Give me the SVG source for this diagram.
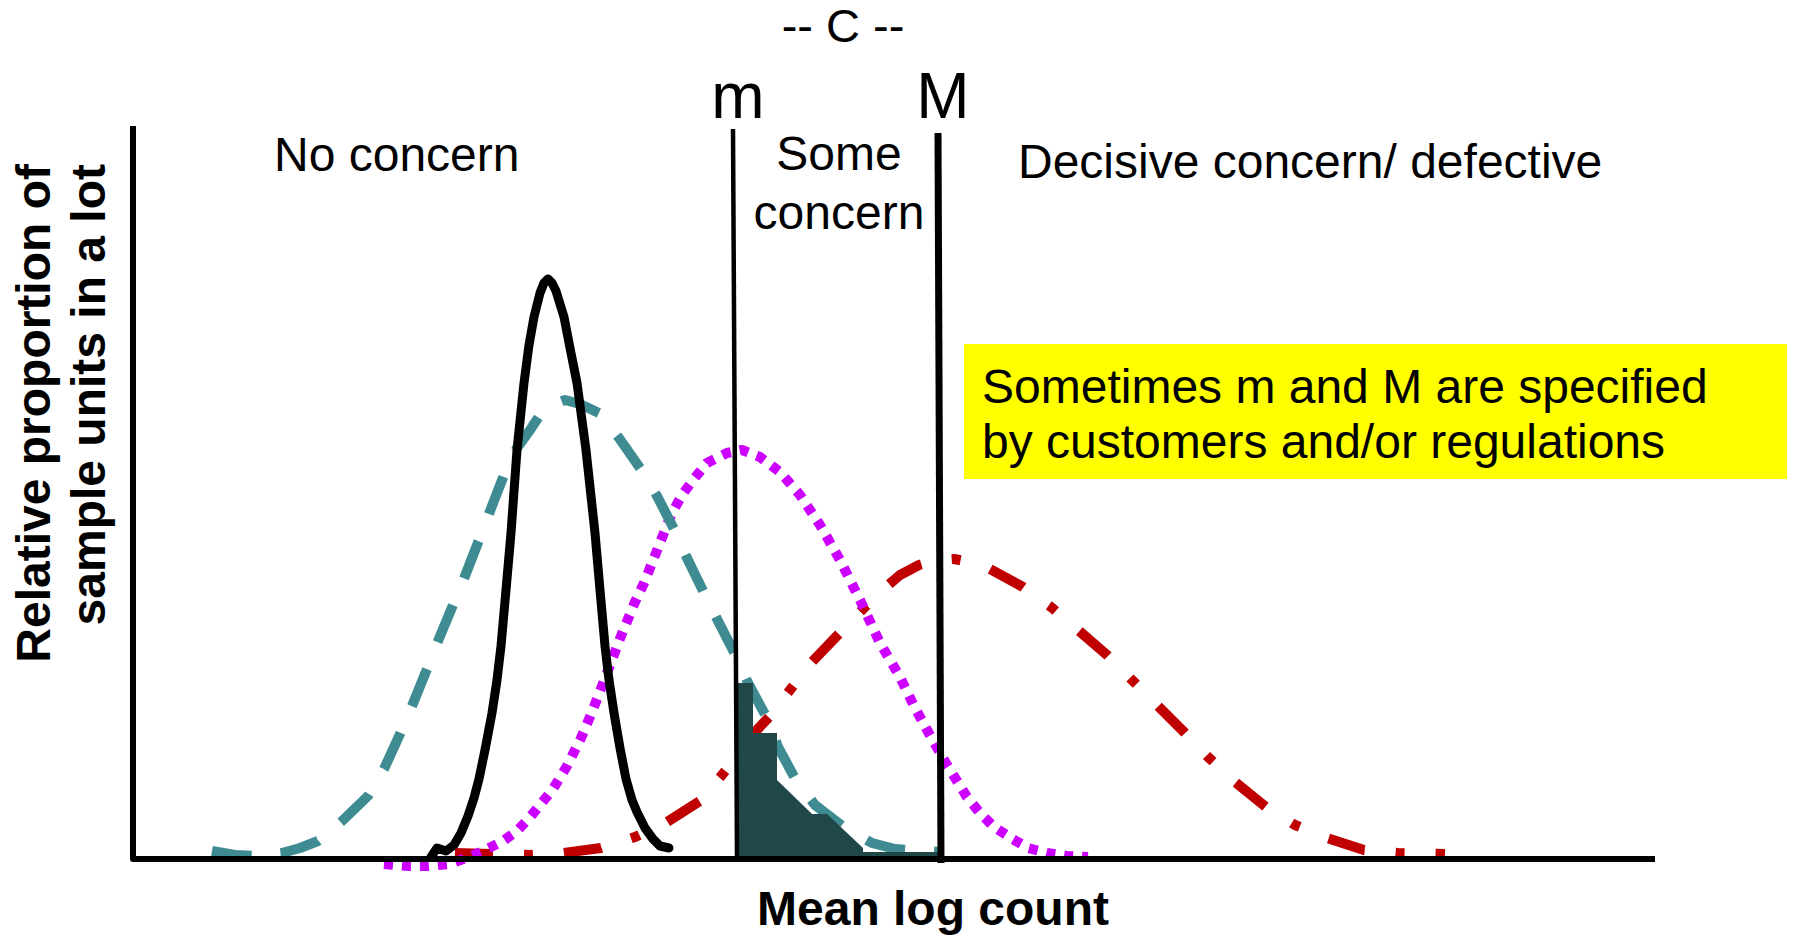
<svg xmlns="http://www.w3.org/2000/svg" width="1796" height="936" viewBox="0 0 1796 936">
<style>
.t{font-family:"Liberation Sans",Arial,sans-serif;fill:#000}
.b{font-family:"Liberation Sans",Arial,sans-serif;font-weight:bold;fill:#000}
.crv{fill:none;stroke-linejoin:round}
</style>
<rect width="1796" height="936" fill="#fff"/>
<g id="curves">
<path id="red" class="crv" stroke="#C00000" stroke-width="10" stroke-dasharray="38 31 9 31" d="M455,853 L492,854 L530,855 L563,853 L601,848 L635,837 L667,822 L700,801 L722,775 L740,752 L755,732 L770,716 L790,690 L810,664 L833,640 L860,612 L880,592 L900,575 L919,565 L936,560 L954,559 L970,562 L988,568 L1023,587 L1051,607 L1078,630 L1107,655 L1132,680 L1157,705 L1185,733 L1208,757 L1235,782 L1266,807 L1295,825 L1327,838 L1364,850 L1398,853 L1445,854"/>
<path id="magenta" class="crv" stroke="#CC00FF" stroke-width="10" stroke-dasharray="9 9" d="M384,864 L409,866 L427,866 L449,864 L466,858 L481,852 L503,841 L517,831 L531,816 L553,789 L567,766 L581,738 L592,712 L607,673 L621,636 L635,602 L644,583 L658,548 L665,530 L672,513 L682,495 L693,480 L707,463 L727,453 L742,450 L760,457 L780,472 L800,495 L820,525 L840,560 L860,600 L880,643 L900,677 L913,704 L927,730 L947,765 L967,797 L980,813 L994,827 L1011,838 L1028,848 L1047,853 L1067,856 L1088,857"/>
<path id="teal" class="crv" stroke="#3E8C92" stroke-width="10" stroke-dasharray="40 29" d="M212,851 L235,855 L255,856 L282,853 L300,848 L318,841 L341,822 L368,796 L384,769 L400,734 L412,706 L427,669 L438,641 L453,605 L465,576 L479,540 L490,511 L504,475 L517,448 L530,430 L540,415 L552,405 L565,400 L580,404 L599,413 L619,438 L642,471 L657,496 L675,531 L687,558 L705,595 L718,621 L736,656 L748,683 L768,720 L778,747 L797,782 L815,805 L845,828 L872,843 L895,849 L910,850 L940,852"/>
<path id="black" class="crv" stroke="#000" stroke-width="9" stroke-linecap="round" d="M431,857 L437,848 L446,851 L454,845 L461,833 L468,816 L474,798 L479,779 L485,750 L492,713 L497,680 L501,646 L506,590 L511,533 L517,450 L524,383 L529,345 L534,317 L540,293 L544,283 L548,279 L552,283 L556,291 L564,317 L570,348 L577,383 L586,450 L595,533 L600,590 L605,646 L609,680 L614,713 L620,748 L626,779 L632,800 L637,812 L645,828 L653,839 L660,846 L669,848"/>
</g>
<g id="shaded-area">
<polygon fill="#214848" points="737,683 753,683 753,733 777,733 777,780 812,814 827,814 863,848 863,852 938,852 938,856 737,856"/>
</g>
<g id="limits">
<line x1="733" y1="129" x2="737" y2="857" stroke="#000" stroke-width="4.5"/>
<line x1="938" y1="133" x2="941" y2="863" stroke="#000" stroke-width="7"/>
</g>
<g id="axes">
<polyline points="133,126 133,859 1655,859" fill="none" stroke="#000" stroke-width="6" stroke-linejoin="round"/>
</g>
<g id="labels">
<text class="t" x="843" y="42" font-size="47" text-anchor="middle">-- C --</text>
<text class="t" x="738" y="118" font-size="64" text-anchor="middle">m</text>
<text class="t" x="943" y="118" font-size="64" text-anchor="middle">M</text>
<text class="t" x="274" y="171" font-size="48">No concern</text>
<text class="t" x="839" y="170" font-size="48" text-anchor="middle">Some</text>
<text class="t" x="839" y="229" font-size="48" text-anchor="middle">concern</text>
<text class="t" x="1018" y="178" font-size="48">Decisive concern/ defective</text>
<text class="b" x="933" y="925" font-size="48" text-anchor="middle">Mean log count</text>
<text class="b" font-size="48" text-anchor="end" transform="translate(50,164) rotate(-90)">Relative proportion of</text>
<text class="b" font-size="48" text-anchor="end" transform="translate(105,164) rotate(-90)">sample units in a lot</text>
</g>
<g id="note">
<rect x="964" y="344" width="823" height="135" fill="#FFFF00"/>
<text class="t" x="982" y="403" font-size="48">Sometimes m and M are specified</text>
<text class="t" x="982" y="458" font-size="48">by customers and/or regulations</text>
</g>
</svg>
